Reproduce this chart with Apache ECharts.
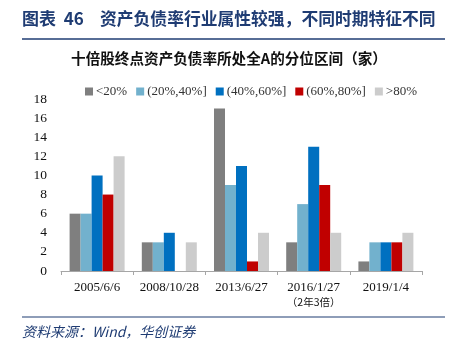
<!DOCTYPE html>
<html><head><meta charset="utf-8">
<script src="https://cdn.jsdelivr.net/npm/echarts@6/dist/echarts.min.js"></script>
<style>html,body{margin:0;padding:0;background:#fff}#c{width:458px;height:353px}</style>
</head><body><div id="c"></div>
<script>
const categories = ['2005/6/6', '2008/10/28', '2013/6/27', '2016/1/27', '2019/1/4'];
const seriesNames = ['<20%', '(20%,40%]', '(40%,60%]', '(60%,80%]', '>80%'];
const s1 = [6, 3, 17, 3, 1];
const s2 = [6, 3, 9, 7, 3];
const s3 = [10, 4, 11, 13, 3];
const s4 = [8, 0, 1, 9, 3];
const s5 = [12, 3, 4, 4, 4];
const yTicks = [0, 2, 4, 6, 8, 10, 12, 14, 16, 18];
const colors = ['#7F7F7F', '#72B1CD', '#0070C0', '#C00000', '#CCCCCC'];
const values = [s1, s2, s3, s4, s5];
const serif = '"Liberation Serif","Times New Roman",serif';
const chart = echarts.init(document.getElementById('c'));
chart.setOption({
  animation: false,
  color: colors,
  graphic: [
    {type: 'text', left: 22, top: 10, style: {text: '图表  46', font: 'bold 17px "Noto Sans CJK SC"', fill: '#1F3C73'}},
    {type: 'text', left: 100, top: 10, style: {text: '资产负债率行业属性较强，不同时期特征不同', font: 'bold 16.8px "Noto Sans CJK SC"', fill: '#1F3C73'}},
    {type: 'line', shape: {x1: 22, y1: 39, x2: 445, y2: 39}, style: {stroke: '#1F3C73', lineWidth: 1.5}},
    {type: 'text', left: 'center', top: 51, style: {text: '十倍股终点资产负债率所处全A的分位区间（家）', font: 'bold 14.6px "Noto Sans CJK SC"', fill: '#111'}},
    {type: 'line', shape: {x1: 22, y1: 317, x2: 445, y2: 317}, style: {stroke: '#1F3C73', lineWidth: 1.2}},
    {type: 'text', left: 22, top: 325, style: {text: '资料来源：Wind，华创证券', font: 'italic 14px "Noto Sans CJK SC"', fill: '#1F3C73'}}
  ],
  legend: {
    top: 80, left: 80, itemWidth: 8, itemHeight: 8, itemGap: 9,
    icon: 'rect',
    textStyle: {fontFamily: serif, fontSize: 13, color: '#333', padding: [0, 0, 0, -2]},
    data: seriesNames
  },
  grid: {left: 61, right: 36, top: 99, bottom: 82},
  xAxis: {
    type: 'category', data: categories,
    axisLine: {lineStyle: {color: '#A6A6A6'}},
    axisTick: {show: true, lineStyle: {color: '#A6A6A6'}, length: 4},
    axisLabel: {
      interval: 0,
      color: '#111', fontFamily: serif, fontSize: 13, margin: 9, lineHeight: 15,
      formatter: function (v) { return v === '2016/1/27' ? v + '\n{s|（2年3倍）}' : v; },
      rich: {s: {fontSize: 10.5, fontFamily: '"Noto Sans CJK SC"', color: '#111', lineHeight: 14}}
    }
  },
  yAxis: {
    type: 'value', min: yTicks[0], max: yTicks[yTicks.length - 1], interval: 2,
    axisLine: {show: false}, axisTick: {show: false},
    splitLine: {show: false},
    axisLabel: {color: '#111', fontFamily: serif, fontSize: 13.5, margin: 14}
  },
  series: values.map((d, i) => ({
    name: seriesNames[i], type: 'bar', data: d, barWidth: 11, barGap: '0%',
    itemStyle: {color: colors[i]}
  }))
});
</script></body></html>
